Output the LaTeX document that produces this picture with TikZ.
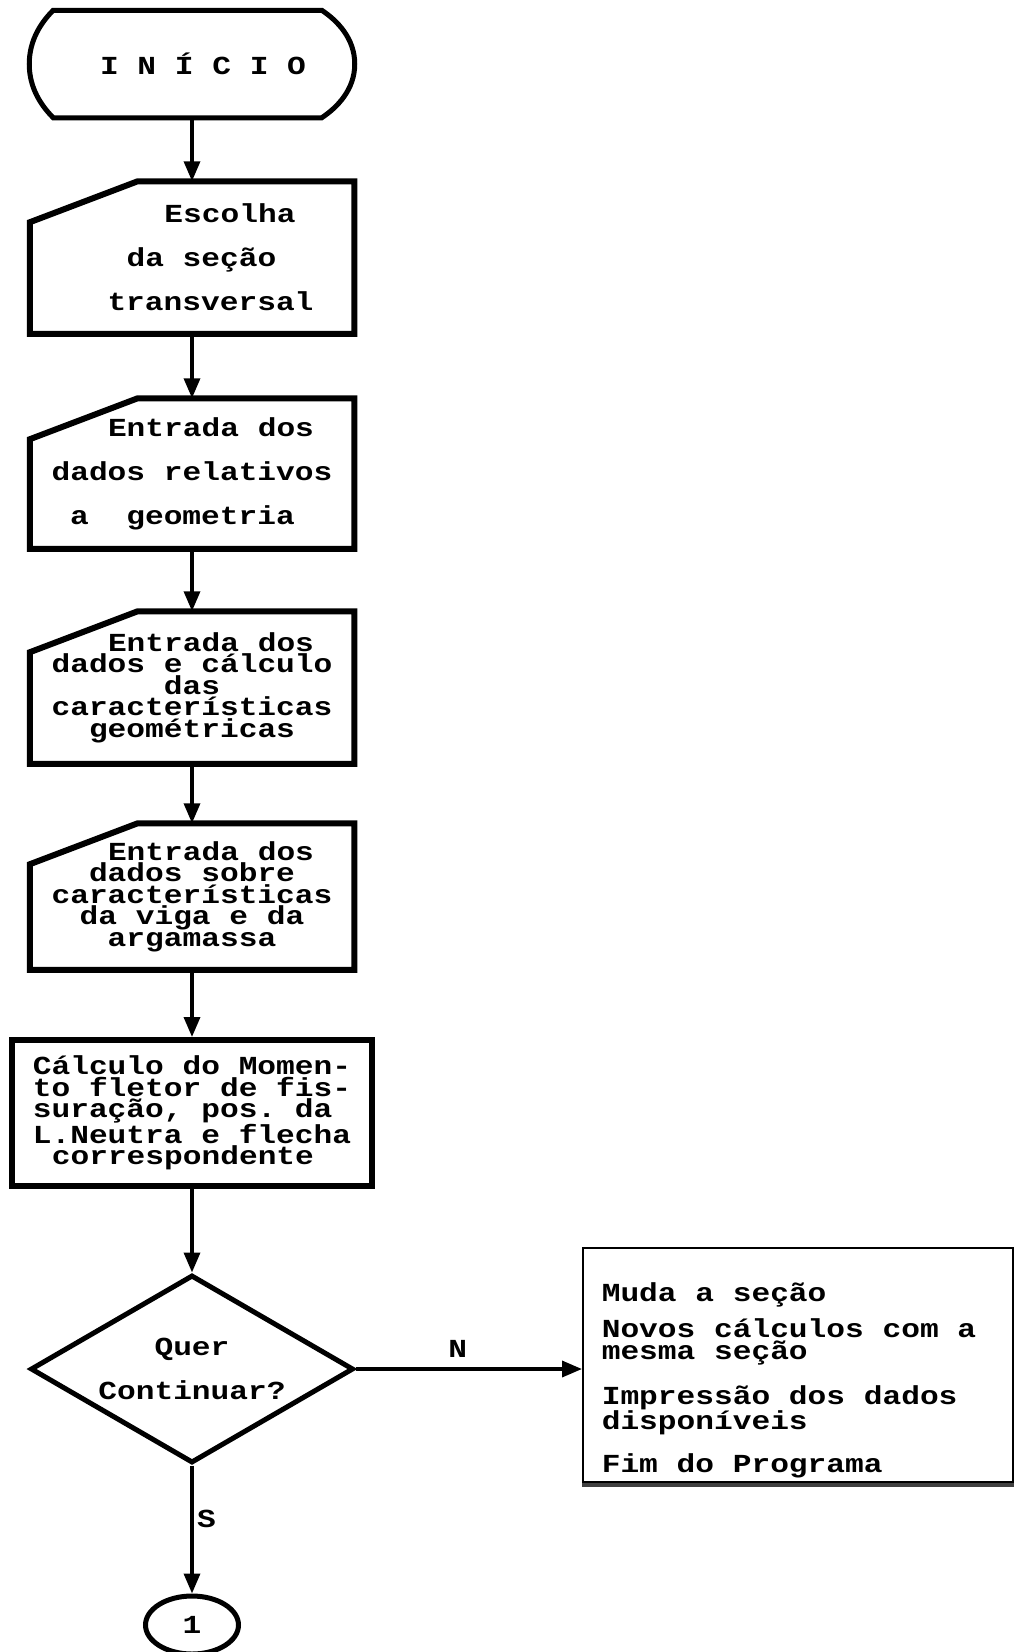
\documentclass[tikz,border=0pt]{standalone}
\usepackage{fontspec}
\newfontfamily\dotfont[FakeStretch=1.2]{Liberation Mono}
\usetikzlibrary{shapes.geometric,arrows.meta}

% dot-matrix look: stretched mono, spaces as wide as the letters
\newcommand\dotset[1]{\dotfont\bfseries\fontsize{26}{#1}\selectfont\frenchspacing\spaceskip=18.72pt\relax}

% input box with the cut top-left corner
\newcommand\slantbox[1]{%
  \draw[outline] ([yshift=-41pt]#1.north west) -- ([xshift=108pt]#1.north west)
    -- (#1.north east) -- (#1.south east) -- (#1.south west) -- cycle;}

\tikzset{
  outline/.style={line width=6pt, line join=miter},
  wide/.style={font={\dotset{44}}},
  tight/.style={font={\dotset{21.5}}},
  inbox/.style={minimum width=321pt, minimum height=#1, align=center, inner sep=0pt},
}

\begin{document}
\begin{tikzpicture}[x=1pt, y=-1pt, >={Triangle[length=20pt,width=16pt]}, line width=3.5pt]
\useasboundingbox (0,0) rectangle (1016,1652);

\node[wide, minimum width=322pt, minimum height=104pt] (inicio) at (192,64) {\hspace*{22pt}I N Í C I O};
\draw[line width=5pt] ([xshift=24pt]inicio.north west) -- ([xshift=-33pt]inicio.north east)
  .. controls ([xshift=-18pt,yshift=-10pt]inicio.north east) and ([yshift=26pt]inicio.east) .. (inicio.east)
  .. controls ([yshift=-26pt]inicio.east) and ([xshift=-18pt,yshift=10pt]inicio.south east) .. ([xshift=-33pt]inicio.south east)
  -- ([xshift=24pt]inicio.south west)
  .. controls ([xshift=12pt,yshift=12pt]inicio.south west) and ([yshift=-24pt]inicio.west) .. (inicio.west)
  .. controls ([yshift=24pt]inicio.west) and ([xshift=12pt,yshift=-12pt]inicio.north west) .. cycle;

\node[inbox=149pt, wide] (secao) at (192,257.5)
  {\hspace*{76pt}Escolha\\\hspace*{19pt}da seção\\\hspace*{37pt}transversal};
\slantbox{secao}
\node[inbox=147pt, wide] (geom) at (192,473.5)
  {\hspace*{38pt}Entrada dos\\dados relativos\\a~~geometria\hspace*{19pt}};
\slantbox{geom}
\node[inbox=149pt, tight] (caract) at (192,687.5)
  {\hspace*{38pt}Entrada dos\\dados e cálculo\\das\\características\\geométricas};
\slantbox{caract}
\node[inbox=143pt, tight] (viga) at (192,896.5)
  {\hspace*{38pt}Entrada dos\\dados sobre\\características\\da viga e da\\argamassa};
\slantbox{viga}

\node[draw, outline, minimum width=360pt, minimum height=146pt, tight, align=left] (momento) at (192,1113)
  {Cálculo do Momen-\\to fletor de fis-\\suração, pos. da\\L.Neutra e flecha\\\hspace*{19pt}correspondente};

\node[diamond, draw, line width=5pt, shape aspect=1.72, minimum width=323pt, minimum height=188pt, inner sep=0pt, wide, align=center] (quer) at (192,1369) {Quer\\Continuar?};

\node[ellipse, draw, line width=5pt, minimum width=93pt, minimum height=58pt, wide] (conector) at (192,1625) {1};

\node[draw, line width=2pt, minimum width=430pt, minimum height=224pt, align=left, font={\dotset{22}}] (opcoes) at (798,1365)
  {\rule{0pt}{50pt}Muda a seção\\[10pt]Novos cálculos com a\hspace*{18pt}\mbox{}\\mesma seção\\[20pt]Impressão dos dados\\disponíveis\\[18pt]Fim do Programa};
\draw[line width=4pt, black!75] ([yshift=-2pt]opcoes.south west) -- ([yshift=-2pt]opcoes.south east);

\draw[->] (inicio) -- (secao);
\draw[->] (secao) -- (geom);
\draw[->] (geom) -- (caract);
\draw[->] (caract) -- (viga);
\draw[->] (viga) -- (momento);
\draw[->] (momento) -- (quer);
\draw[->] (quer) -- node[right, wide, pos=0.42] {S} (conector);
\draw[->] (quer.east) -- node[above=6pt, wide, pos=0.45] {N} (quer.east -| opcoes.west);
\end{tikzpicture}
\end{document}
